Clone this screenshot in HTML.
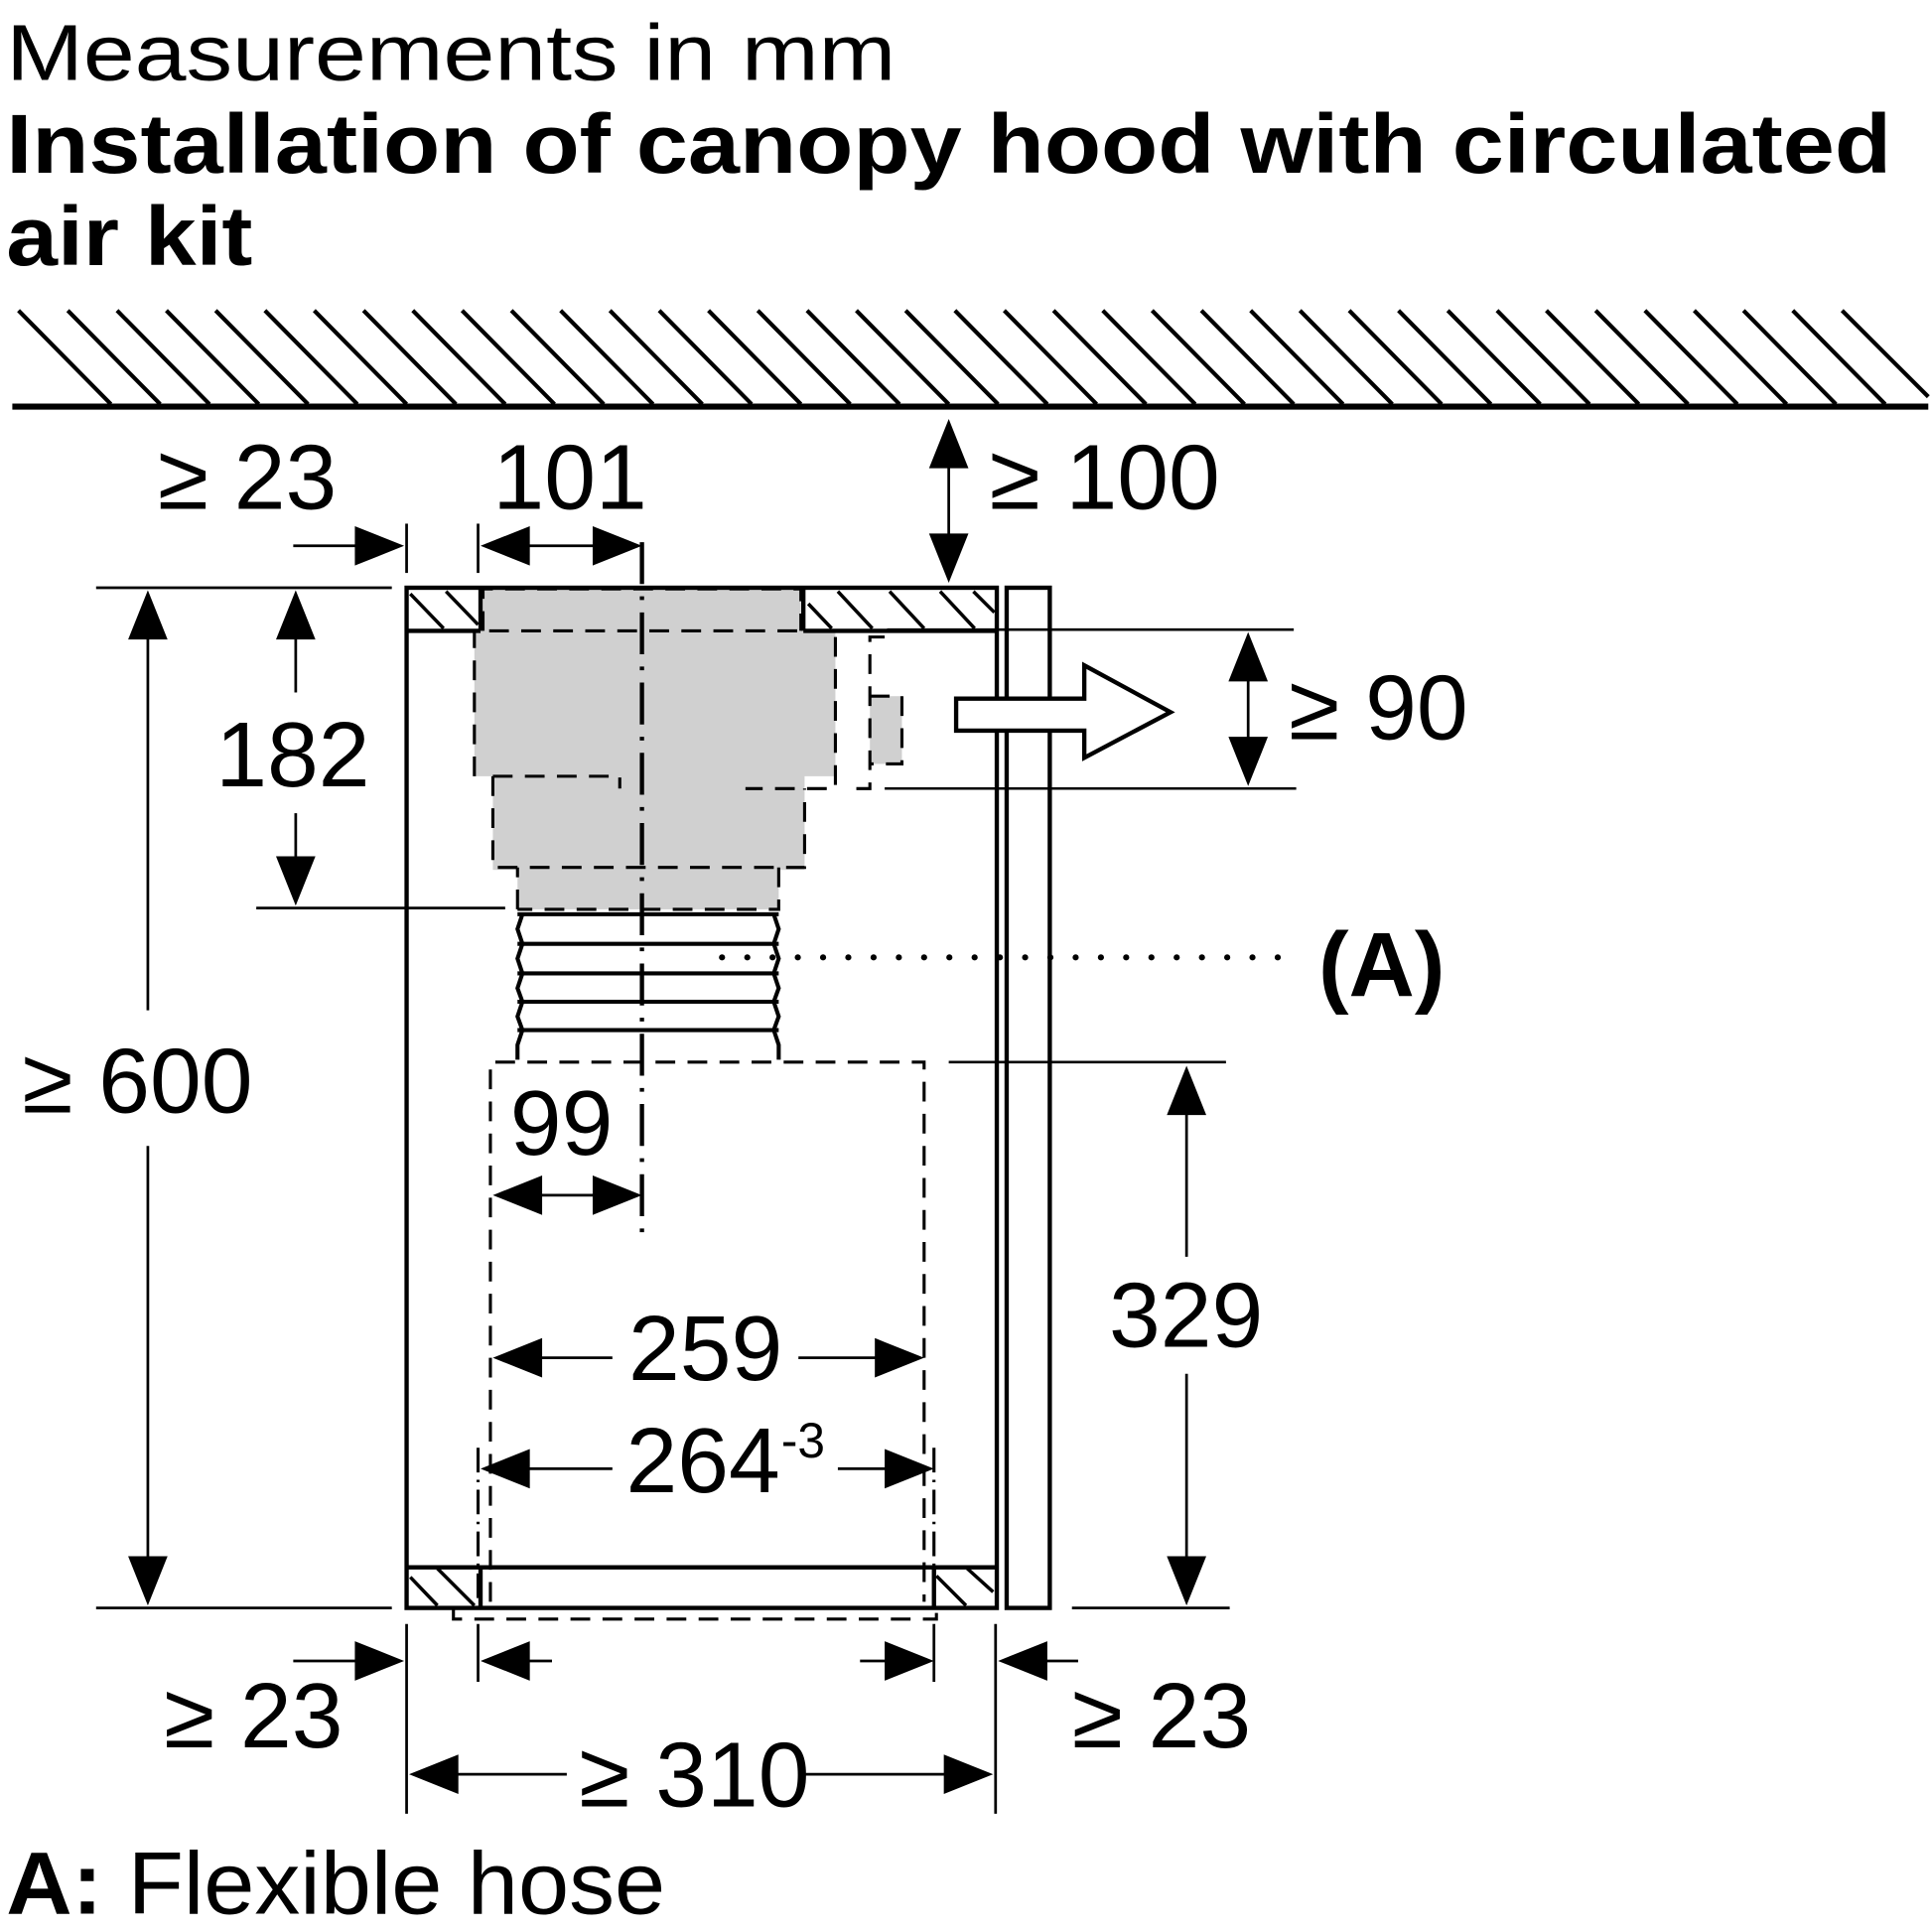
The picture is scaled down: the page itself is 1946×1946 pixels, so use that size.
<!DOCTYPE html>
<html><head><meta charset="utf-8"><style>html,body{margin:0;padding:0;background:#fff}svg{display:block}</style></head>
<body>
<svg width="1946" height="1946" viewBox="0 0 1568 1568" xmlns="http://www.w3.org/2000/svg" font-family="Liberation Sans, Arial, sans-serif">
<rect width="1568" height="1568" fill="#fff"/>
<text x="5" y="65" font-size="64" textLength="722" lengthAdjust="spacingAndGlyphs">Measurements in mm</text>
<text x="5" y="140" font-size="68" font-weight="bold" textLength="1530" lengthAdjust="spacingAndGlyphs">Installation of canopy hood with circulated</text>
<text x="5" y="215" font-size="68" font-weight="bold" textLength="200" lengthAdjust="spacingAndGlyphs">air kit</text>
<!-- ceiling -->
<g stroke="#000" stroke-width="3.3">
<line x1="10" y1="330" x2="1565" y2="330" stroke-width="5"/>
<path d="M15 252 L90 328 M55 252 L130 328 M95 252 L170 328 M135 252 L210 328 M175 252 L250 328 M215 252 L290 328 M255 252 L330 328 M295 252 L370 328 M335 252 L410 328 M375 252 L450 328 M415 252 L490 328 M455 252 L530 328 M495 252 L570 328 M535 252 L610 328 M575 252 L650 328 M615 252 L690 328 M655 252 L730 328 M695 252 L770 328 M735 252 L810 328 M775 252 L850 328 M815 252 L890 328 M855 252 L930 328 M895 252 L970 328 M935 252 L1010 328 M975 252 L1050 328 M1015 252 L1090 328 M1055 252 L1130 328 M1095 252 L1170 328 M1135 252 L1210 328 M1175 252 L1250 328 M1215 252 L1290 328 M1255 252 L1330 328 M1295 252 L1370 328 M1335 252 L1410 328 M1375 252 L1450 328 M1415 252 L1490 328 M1455 252 L1530 328 M1495 252 L1565 322"/>
</g>
<!-- gray fan -->
<g fill="#d0d0d0">
<rect x="392" y="478" width="258" height="36"/>
<rect x="385" y="512" width="293" height="118"/>
<rect x="400" y="628" width="253" height="78"/>
<rect x="420" y="704" width="212" height="34"/>
<rect x="706" y="565" width="26" height="55"/>
</g>
<!-- cabinet -->
<g fill="none" stroke="#000" stroke-width="3.5">
<rect x="330" y="477" width="479" height="828"/>
<line x1="330" y1="512" x2="390" y2="512"/>
<line x1="652" y1="512" x2="809" y2="512"/>
<line x1="390" y1="477" x2="390" y2="512"/>
<line x1="652" y1="477" x2="652" y2="512"/>
<line x1="330" y1="1272" x2="809" y2="1272"/>
<line x1="390" y1="1272" x2="390" y2="1305"/>
<line x1="758" y1="1272" x2="758" y2="1305"/>
<rect x="817" y="477" width="35" height="828"/>
</g>
<g stroke="#000" stroke-width="2.8">
<path d="M333 482 L360 510 M362 480 L388 507 M656 490 L675 510 M680 480 L708 510 M722 480 L750 510 M763 480 L791 510 M790 480 L807 497"/>
<path d="M333 1280 L355 1303 M355 1273 L385 1303 M760 1279 L784 1303 M785 1273 L806 1292"/>
</g>
<!-- dashed outlines -->
<g fill="none" stroke="#000" stroke-width="2.5" stroke-dasharray="16 10">
<path d="M392 512 L392 478 L650 478 L650 512"/>
<path d="M385 630 L385 512 L678 512 L678 640 L605 640"/>
<path d="M400 630 L503 630 L503 640 M400 630 L400 704 L653 704 L653 640"/>
<path d="M420 738 L420 704 M632 704 L632 738 L420 738"/>
<path d="M718 517 L706 517 L706 640 L690 640 M706 565 L732 565 L732 620 L706 620"/>
<path d="M398 1300 L398 862 L750 862 L750 1300"/>
<path d="M368 1305 L368 1314 L760 1314 L760 1305"/>
<path d="M388 1175 L388 1300 M758 1175 L758 1300" stroke-dasharray="20 6 2 6"/>
</g>
<line x1="718" y1="640" x2="1052" y2="640" stroke="#000" stroke-width="2"/>
<!-- hose -->
<g fill="none" stroke="#000" stroke-width="3.3">
<path d="M420 742 L632 742 M420 766 L632 766 M420 790 L632 790 M420 813 L632 813 M420 836 L632 836"/>
<path d="M424 742 L420 754 L424 766 L420 778 L424 790 L420 802 L424 813 L420 825 L424 836 L420 848 L420 860"/>
<path d="M628 742 L632 754 L628 766 L632 778 L628 790 L632 802 L628 813 L632 825 L628 836 L632 848 L632 860"/>
</g>
<!-- centerline -->
<line x1="521" y1="440" x2="521" y2="1000" stroke="#000" stroke-width="3.5" stroke-dasharray="34 10 3 10"/>
<!-- (A) -->
<line x1="586" y1="777" x2="1045" y2="777" stroke="#000" stroke-width="5" stroke-linecap="round" stroke-dasharray="0 20.5"/>
<text x="1070" y="808" font-size="74" font-weight="bold">(A)</text>
<!-- outline arrow -->
<path d="M776 567 L880 567 L880 540 L950 578 L880 615 L880 593 L776 593 Z" fill="#fff" stroke="#000" stroke-width="3.5"/>
<!-- dimension lines -->
<g stroke="#000" stroke-width="2.2" fill="none">
<line x1="330" y1="425" x2="330" y2="465"/>
<line x1="388" y1="425" x2="388" y2="465"/>
<line x1="238" y1="443" x2="300" y2="443"/>
<line x1="420" y1="443" x2="490" y2="443"/>
<line x1="770" y1="370" x2="770" y2="445"/>
<line x1="78" y1="477" x2="318" y2="477"/>
<line x1="78" y1="1305" x2="318" y2="1305"/>
<line x1="120" y1="515" x2="120" y2="820"/>
<line x1="120" y1="930" x2="120" y2="1265"/>
<line x1="240" y1="515" x2="240" y2="562"/>
<line x1="240" y1="660" x2="240" y2="697"/>
<line x1="208" y1="737" x2="410" y2="737"/>
<line x1="720" y1="511" x2="1050" y2="511"/>
<line x1="1013" y1="550" x2="1013" y2="600"/>
<line x1="430" y1="970" x2="492" y2="970"/>
<line x1="770" y1="862" x2="995" y2="862"/>
<line x1="870" y1="1305" x2="998" y2="1305"/>
<line x1="963" y1="902" x2="963" y2="1020"/>
<line x1="963" y1="1115" x2="963" y2="1265"/>
<line x1="438" y1="1102" x2="497" y2="1102"/>
<line x1="648" y1="1102" x2="712" y2="1102"/>
<line x1="428" y1="1192" x2="497" y2="1192"/>
<line x1="680" y1="1192" x2="720" y2="1192"/>
<line x1="330" y1="1318" x2="330" y2="1472"/>
<line x1="808" y1="1318" x2="808" y2="1472"/>
<line x1="388" y1="1318" x2="388" y2="1365"/>
<line x1="758" y1="1318" x2="758" y2="1365"/>
<line x1="238" y1="1348" x2="300" y2="1348"/>
<line x1="420" y1="1348" x2="448" y2="1348"/>
<line x1="698" y1="1348" x2="728" y2="1348"/>
<line x1="838" y1="1348" x2="875" y2="1348"/>
<line x1="368" y1="1440" x2="460" y2="1440"/>
<line x1="650" y1="1440" x2="770" y2="1440"/>
</g>
<!-- arrowheads -->
<g fill="#000">
<polygon points="328,443 288,427 288,459"/>
<polygon points="390,443 430,427 430,459"/>
<polygon points="521,443 481,427 481,459"/>
<polygon points="770,340 754,380 786,380"/>
<polygon points="770,473 754,433 786,433"/>
<polygon points="120,479 104,519 136,519"/>
<polygon points="120,1303 104,1263 136,1263"/>
<polygon points="240,479 224,519 256,519"/>
<polygon points="240,735 224,695 256,695"/>
<polygon points="1013,513 997,553 1029,553"/>
<polygon points="1013,638 997,598 1029,598"/>
<polygon points="400,970 440,954 440,986"/>
<polygon points="521,970 481,954 481,986"/>
<polygon points="963,865 947,905 979,905"/>
<polygon points="963,1303 947,1263 979,1263"/>
<polygon points="400,1102 440,1086 440,1118"/>
<polygon points="750,1102 710,1086 710,1118"/>
<polygon points="390,1192 430,1176 430,1208"/>
<polygon points="758,1192 718,1176 718,1208"/>
<polygon points="328,1348 288,1332 288,1364"/>
<polygon points="390,1348 430,1332 430,1364"/>
<polygon points="758,1348 718,1332 718,1364"/>
<polygon points="810,1348 850,1332 850,1364"/>
<polygon points="332,1440 372,1424 372,1456"/>
<polygon points="806,1440 766,1424 766,1456"/>
</g>
<!-- dim texts -->
<g font-size="75">
<text x="128" y="413">≥ 23</text>
<text x="400" y="413">101</text>
<text x="803" y="413">≥ 100</text>
<text x="175" y="638">182</text>
<text x="1046" y="600">≥ 90</text>
<text x="18" y="903">≥ 600</text>
<text x="414" y="937">99</text>
<text x="900" y="1093">329</text>
<text x="510" y="1120">259</text>
<text x="508" y="1211">264</text>
<text x="634" y="1183" font-size="40">-3</text>
<text x="133" y="1418">≥ 23</text>
<text x="870" y="1418">≥ 23</text>
<text x="470" y="1466">≥ 310</text>
</g>
<text x="5" y="1553" font-size="72" textLength="535" lengthAdjust="spacingAndGlyphs"><tspan font-weight="bold">A:</tspan> Flexible hose</text>
</svg>
</body></html>
